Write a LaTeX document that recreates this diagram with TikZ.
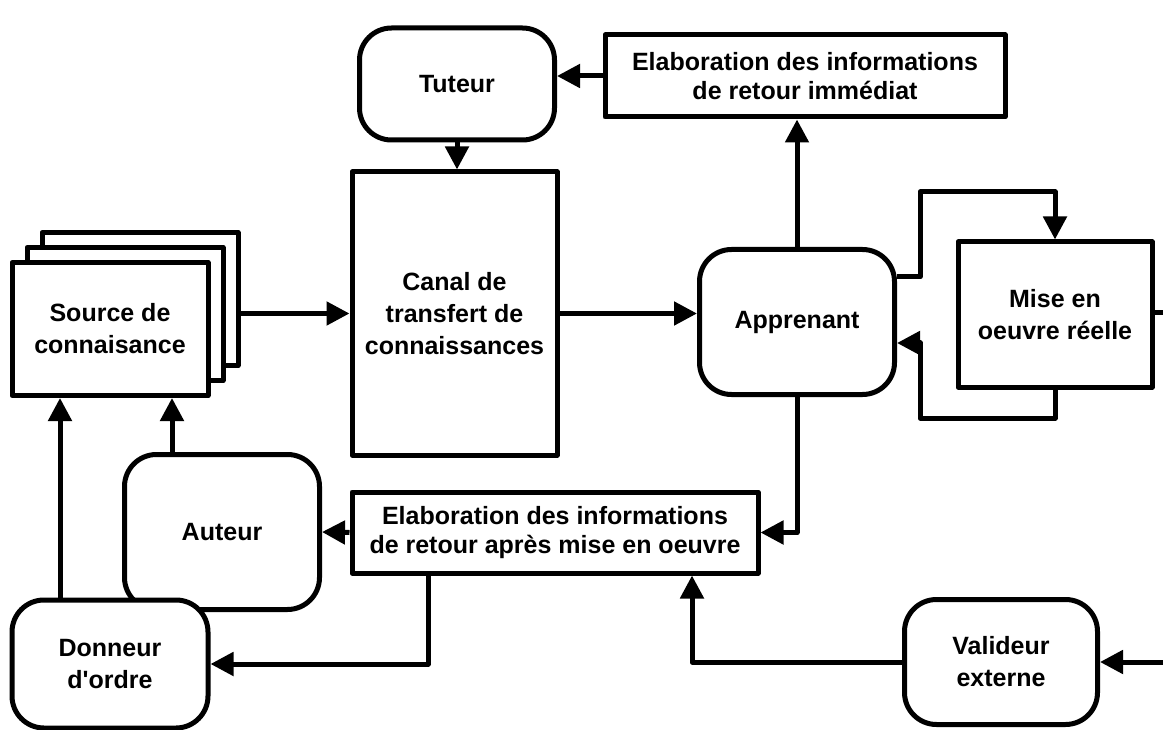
\documentclass[tikz,border=0pt]{standalone}
\usepackage{fontspec}
\setmainfont{Liberation Sans}
\usetikzlibrary{arrows.meta}
\begin{document}
\begin{tikzpicture}[x=1pt,y=-1pt,
  every node/.style={font=\fontsize{25}{32}\selectfont\bfseries, align=center, inner sep=0pt},
  tight/.style={font=\fontsize{25}{29.5}\selectfont\bfseries},
  box/.style={draw, line width=5pt, fill=white, line join=round},
  rbox/.style={box, rounded corners=32pt},
  arr/.style={line width=5pt, line join=round, -{Triangle[length=23pt,width=23pt]}}]
\useasboundingbox (0,0) rectangle (1163,730);

% knowledge source stack
\node[box, minimum width=196pt, minimum height=133pt] (src3) at (140,299) {};
\node[box, minimum width=196pt, minimum height=133pt] (src2) at (125,314) {};
\node[box, minimum width=196pt, minimum height=133pt] (src1) at (110,329) {Source de\\connaisance};

\node[box, minimum width=205pt, minimum height=283pt] (canal) at (454.5,313.5) {Canal de\\transfert de\\connaissances};
\node[rbox, minimum width=195pt, minimum height=112pt] (tuteur) at (457,84) {Tuteur};
\node[box, tight, minimum width=400pt, minimum height=82pt] (elabtop) at (805,76) {Elaboration des informations\\de retour immédiat};
\node[rbox, minimum width=195pt, minimum height=145pt] (appr) at (797,322) {Apprenant};
\node[box, minimum width=194pt, minimum height=145pt] (mise) at (1055,314.5) {Mise en\\oeuvre réelle};
\node[box, tight, minimum width=406pt, minimum height=81pt] (elabbot) at (555,532.5) {Elaboration des informations\\de retour après mise en oeuvre};
\node[rbox, minimum width=195pt, minimum height=155pt] (auteur) at (222,532) {Auteur};
\node[rbox, minimum width=196pt, minimum height=128pt] (donneur) at (110,664) {Donneur\\d\textquotesingle ordre};
\node[rbox, minimum width=193pt, minimum height=125pt] (valid) at (1001,662) {Valideur\\externe};

\coordinate (l1) at (920,192);
\coordinate (l2) at (920,418);
\coordinate (outR) at (1163,313);
\coordinate (inV) at (1163,662);

% connectors
\draw[arr] (src3.east |- canal.west) -- (canal.west);
\draw[arr] (canal.east) -- (canal.east -| appr.west);
\draw[arr] (tuteur.south) -- (tuteur.south |- canal.north);
\draw[arr] (elabtop.west) -- (elabtop.west -| tuteur.east);
\draw[arr] (appr.north) -- (appr.north |- elabtop.south);
\draw[arr] (appr.south) |- (elabbot.east);
\draw[arr] (elabbot.west) -- (auteur.east);
\draw[arr] ([xshift=-50pt]auteur.north) -- ([xshift=-50pt]auteur.north |- src1.south);
\draw[arr] ([xshift=-50pt]donneur.north) -- ([xshift=-50pt]donneur.north |- src1.south);
\draw[arr] ([xshift=-127pt]elabbot.south) |- (donneur.east);
\draw[arr] (valid.west) -| ([xshift=137pt]elabbot.south);
\draw[arr] (inV) -- (valid.east);
\draw[line width=5pt] (mise.east |- outR) -- (outR);
\draw[arr] ([yshift=45pt]appr.east) -| (l1) -| (mise.north);
\draw[arr] (mise.south) |- (l2) |- ([yshift=-21pt]appr.east);
\end{tikzpicture}
\end{document}
